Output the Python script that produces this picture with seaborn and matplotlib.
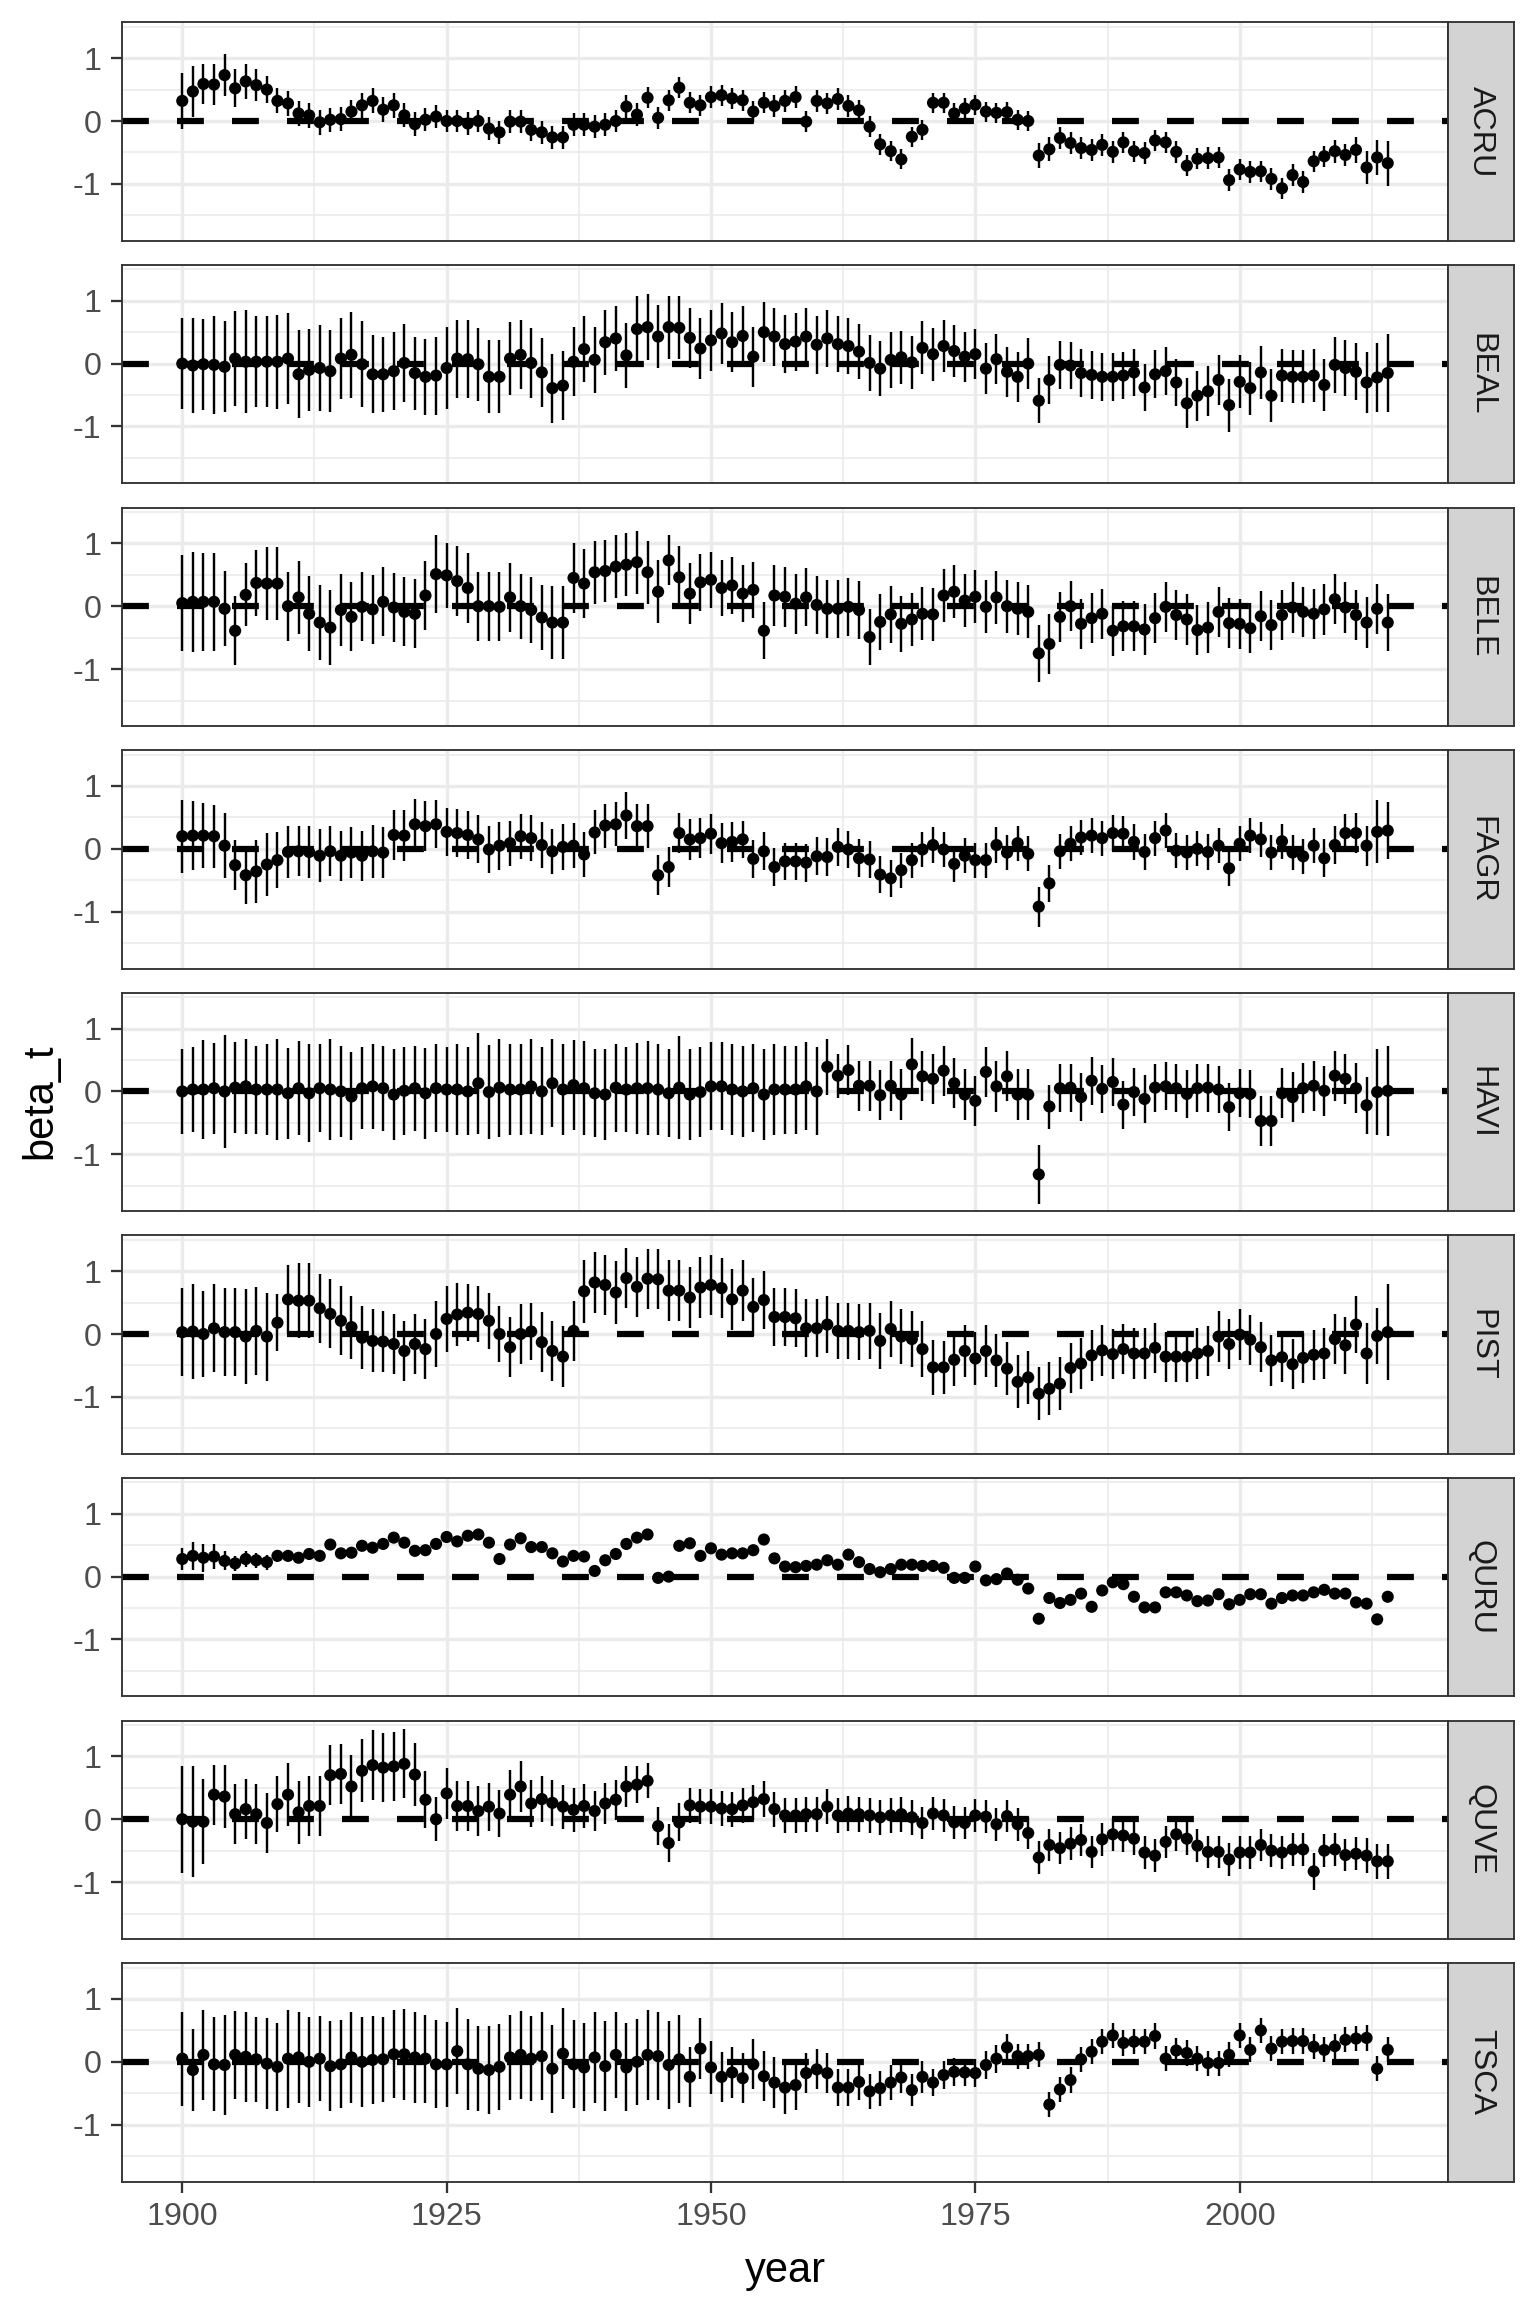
import pandas as pd
import seaborn as sns
import matplotlib.pyplot as plt
from matplotlib.ticker import FixedLocator

years = list(range(1900, 2015))
species = ['ACRU', 'BEAL', 'BELE', 'FAGR', 'HAVI', 'PIST', 'QURU', 'QUVE', 'TSCA']

# point estimates (beta_t) and half-width of the interval, 1900..2014
acru_beta = [0.32, 0.47, 0.59, 0.58, 0.73, 0.52, 0.63, 0.57, 0.50, 0.32,
             0.28, 0.12, 0.09, -0.02, 0.02, 0.03, 0.15, 0.25, 0.32, 0.18,
             0.25, 0.09, -0.05, 0.02, 0.07, 0.00, 0.00, -0.04, 0.00, -0.12,
             -0.18, -0.01, -0.01, -0.14, -0.18, -0.26, -0.26, -0.06, -0.06, -0.09,
             -0.06, 0.00, 0.23, 0.10, 0.37, 0.05, 0.33, 0.53, 0.29, 0.25,
             0.38, 0.41, 0.36, 0.33, 0.15, 0.29, 0.24, 0.32, 0.38, -0.01,
             0.32, 0.28, 0.35, 0.24, 0.17, -0.09, -0.37, -0.48, -0.61, -0.25,
             -0.14, 0.29, 0.29, 0.12, 0.20, 0.26, 0.15, 0.13, 0.14, 0.02,
             0.00, -0.55, -0.45, -0.27, -0.35, -0.43, -0.46, -0.38, -0.49, -0.34,
             -0.48, -0.51, -0.31, -0.34, -0.49, -0.71, -0.60, -0.59, -0.58, -0.94,
             -0.77, -0.81, -0.80, -0.92, -1.07, -0.86, -0.97, -0.64, -0.56, -0.48,
             -0.54, -0.46, -0.74, -0.58, -0.67]
acru_err = [0.45, 0.40, 0.32, 0.32, 0.34, 0.30, 0.28, 0.25, 0.22, 0.20,
            0.20, 0.20, 0.20, 0.20, 0.19, 0.19, 0.19, 0.20, 0.20, 0.20,
            0.20, 0.19, 0.19, 0.18, 0.18, 0.18, 0.18, 0.18, 0.18, 0.18,
            0.18, 0.18, 0.18, 0.18, 0.18, 0.18, 0.18, 0.18, 0.18, 0.18,
            0.18, 0.18, 0.18, 0.18, 0.17, 0.17, 0.17, 0.17, 0.17, 0.17,
            0.17, 0.17, 0.17, 0.17, 0.17, 0.17, 0.17, 0.17, 0.17, 0.17,
            0.17, 0.17, 0.17, 0.17, 0.17, 0.17, 0.17, 0.16, 0.16, 0.16,
            0.16, 0.16, 0.16, 0.16, 0.16, 0.16, 0.16, 0.16, 0.16, 0.16,
            0.16, 0.20, 0.19, 0.18, 0.17, 0.17, 0.17, 0.17, 0.17, 0.17,
            0.17, 0.17, 0.17, 0.17, 0.17, 0.17, 0.17, 0.17, 0.17, 0.17,
            0.17, 0.17, 0.17, 0.17, 0.17, 0.17, 0.17, 0.17, 0.17, 0.18,
            0.18, 0.20, 0.26, 0.28, 0.36]

beal_beta = [0.00, -0.03, -0.01, -0.02, -0.05, 0.08, 0.03, 0.03, 0.03, 0.03,
             0.08, -0.17, -0.10, -0.07, -0.12, 0.08, 0.14, -0.01, -0.17, -0.17,
             -0.12, 0.01, -0.15, -0.21, -0.19, -0.07, 0.08, 0.07, -0.01, -0.21,
             -0.21, 0.08, 0.14, 0.01, -0.14, -0.39, -0.35, 0.03, 0.23, 0.06,
             0.34, 0.40, 0.13, 0.55, 0.58, 0.43, 0.58, 0.57, 0.41, 0.24,
             0.37, 0.48, 0.34, 0.44, 0.11, 0.50, 0.43, 0.31, 0.35, 0.43,
             0.30, 0.40, 0.31, 0.28, 0.19, 0.01, -0.08, 0.06, 0.10, 0.02,
             0.25, 0.15, 0.28, 0.20, 0.11, 0.15, -0.08, 0.07, -0.13, -0.21,
             0.00, -0.59, -0.26, -0.02, -0.03, -0.15, -0.18, -0.21, -0.21, -0.19,
             -0.14, -0.38, -0.17, -0.12, -0.30, -0.63, -0.51, -0.44, -0.26, -0.66,
             -0.29, -0.39, -0.14, -0.51, -0.19, -0.21, -0.21, -0.19, -0.34, -0.02,
             -0.07, -0.13, -0.30, -0.22, -0.15]
beal_err = [0.72, 0.75, 0.72, 0.78, 0.72, 0.75, 0.82, 0.72, 0.72, 0.75,
            0.72, 0.70, 0.65, 0.68, 0.65, 0.65, 0.68, 0.68, 0.62, 0.60,
            0.62, 0.62, 0.58, 0.60, 0.62, 0.65, 0.62, 0.62, 0.58, 0.58,
            0.58, 0.58, 0.55, 0.55, 0.55, 0.55, 0.55, 0.55, 0.52, 0.52,
            0.52, 0.52, 0.52, 0.52, 0.52, 0.50, 0.50, 0.50, 0.48, 0.48,
            0.48, 0.48, 0.48, 0.48, 0.48, 0.48, 0.46, 0.46, 0.46, 0.46,
            0.46, 0.45, 0.45, 0.45, 0.44, 0.44, 0.44, 0.44, 0.42, 0.42,
            0.42, 0.42, 0.42, 0.42, 0.40, 0.40, 0.40, 0.40, 0.40, 0.40,
            0.40, 0.36, 0.38, 0.38, 0.38, 0.38, 0.38, 0.38, 0.38, 0.38,
            0.38, 0.38, 0.38, 0.38, 0.38, 0.40, 0.40, 0.40, 0.40, 0.42,
            0.42, 0.42, 0.42, 0.42, 0.42, 0.42, 0.42, 0.42, 0.42, 0.45,
            0.45, 0.45, 0.48, 0.55, 0.62]

bele_beta = [0.05, 0.07, 0.07, 0.07, -0.04, -0.39, 0.18, 0.37, 0.36, 0.36,
             0.00, 0.14, -0.12, -0.26, -0.34, -0.06, -0.17, -0.01, -0.05, 0.07,
             -0.02, -0.09, -0.12, 0.17, 0.51, 0.49, 0.40, 0.29, 0.00, 0.00,
             -0.01, 0.14, 0.00, -0.06, -0.18, -0.26, -0.26, 0.45, 0.36, 0.54,
             0.56, 0.63, 0.66, 0.70, 0.54, 0.23, 0.73, 0.46, 0.20, 0.38,
             0.42, 0.29, 0.33, 0.20, 0.26, -0.39, 0.17, 0.15, 0.04, 0.14,
             0.02, -0.04, -0.04, -0.01, -0.06, -0.49, -0.25, -0.13, -0.28, -0.21,
             -0.12, -0.13, 0.17, 0.23, 0.09, 0.15, -0.01, 0.14, 0.00, -0.04,
             -0.09, -0.75, -0.60, -0.17, 0.00, -0.28, -0.19, -0.12, -0.39, -0.32,
             -0.32, -0.37, -0.19, -0.01, -0.14, -0.21, -0.38, -0.34, -0.09, -0.27,
             -0.28, -0.35, -0.16, -0.30, -0.14, -0.02, -0.09, -0.12, -0.05, 0.11,
             -0.02, -0.14, -0.26, -0.04, -0.26]
bele_err = [0.76, 0.80, 0.78, 0.78, 0.60, 0.55, 0.50, 0.52, 0.58, 0.58,
            0.55, 0.58, 0.60, 0.60, 0.60, 0.58, 0.55, 0.55, 0.55, 0.55,
            0.55, 0.55, 0.55, 0.55, 0.62, 0.52, 0.55, 0.55, 0.55, 0.55,
            0.55, 0.55, 0.52, 0.52, 0.52, 0.58, 0.58, 0.55, 0.55, 0.50,
            0.50, 0.50, 0.50, 0.50, 0.50, 0.50, 0.40, 0.50, 0.48, 0.45,
            0.45, 0.45, 0.45, 0.45, 0.45, 0.45, 0.48, 0.48, 0.48, 0.46,
            0.46, 0.46, 0.46, 0.46, 0.46, 0.45, 0.45, 0.45, 0.45, 0.42,
            0.42, 0.42, 0.42, 0.42, 0.42, 0.42, 0.42, 0.42, 0.42, 0.42,
            0.42, 0.45, 0.48, 0.40, 0.40, 0.40, 0.40, 0.40, 0.40, 0.40,
            0.40, 0.40, 0.40, 0.40, 0.40, 0.40, 0.40, 0.40, 0.40, 0.40,
            0.40, 0.40, 0.40, 0.40, 0.40, 0.40, 0.40, 0.40, 0.40, 0.40,
            0.40, 0.40, 0.40, 0.40, 0.45]

fagr_beta = [0.20, 0.21, 0.21, 0.20, 0.05, -0.26, -0.42, -0.36, -0.25, -0.18,
             -0.05, -0.04, -0.05, -0.11, -0.04, -0.11, -0.06, -0.11, -0.04, -0.06,
             0.22, 0.21, 0.39, 0.36, 0.39, 0.27, 0.25, 0.22, 0.15, -0.01,
             0.05, 0.09, 0.20, 0.17, 0.06, -0.04, 0.03, 0.05, -0.09, 0.26,
             0.37, 0.39, 0.53, 0.36, 0.36, -0.42, -0.29, 0.25, 0.15, 0.17,
             0.24, 0.09, 0.11, 0.15, -0.16, -0.04, -0.29, -0.20, -0.20, -0.22,
             -0.12, -0.13, 0.03, -0.01, -0.15, -0.17, -0.41, -0.47, -0.34, -0.18,
             -0.01, 0.06, -0.01, -0.24, -0.11, -0.18, -0.18, 0.06, -0.06, 0.09,
             -0.08, -0.92, -0.55, -0.04, 0.08, 0.18, 0.21, 0.17, 0.25, 0.24,
             0.11, -0.05, 0.17, 0.29, -0.03, -0.06, 0.00, -0.05, 0.05, -0.31,
             0.08, 0.21, 0.15, -0.06, 0.12, -0.06, -0.12, 0.05, -0.15, 0.06,
             0.25, 0.25, 0.05, 0.27, 0.29]
fagr_err = [0.58, 0.55, 0.52, 0.50, 0.52, 0.40, 0.45, 0.50, 0.50, 0.45,
            0.42, 0.40, 0.42, 0.42, 0.40, 0.40, 0.40, 0.40, 0.42, 0.40,
            0.40, 0.40, 0.40, 0.40, 0.38, 0.38, 0.38, 0.38, 0.38, 0.38,
            0.38, 0.36, 0.36, 0.36, 0.36, 0.36, 0.36, 0.36, 0.36, 0.35,
            0.35, 0.35, 0.38, 0.35, 0.35, 0.32, 0.32, 0.32, 0.32, 0.32,
            0.32, 0.32, 0.32, 0.30, 0.30, 0.30, 0.30, 0.30, 0.30, 0.30,
            0.30, 0.30, 0.30, 0.30, 0.30, 0.30, 0.30, 0.30, 0.28, 0.28,
            0.28, 0.28, 0.28, 0.28, 0.28, 0.28, 0.28, 0.28, 0.28, 0.28,
            0.28, 0.32, 0.30, 0.28, 0.28, 0.28, 0.28, 0.28, 0.28, 0.28,
            0.28, 0.28, 0.28, 0.28, 0.28, 0.28, 0.28, 0.28, 0.28, 0.28,
            0.28, 0.28, 0.28, 0.28, 0.28, 0.28, 0.28, 0.28, 0.30, 0.30,
            0.30, 0.32, 0.32, 0.50, 0.45]

havi_beta = [0.00, 0.03, 0.03, 0.05, 0.00, 0.06, 0.08, 0.03, 0.03, 0.03,
             -0.03, 0.05, -0.03, 0.05, 0.03, 0.00, -0.08, 0.05, 0.08, 0.05,
             -0.05, 0.01, 0.05, -0.03, 0.05, 0.03, 0.03, 0.00, 0.13, -0.01,
             0.06, 0.03, 0.03, 0.08, 0.00, 0.13, 0.03, 0.10, 0.05, -0.03,
             -0.05, 0.06, 0.03, 0.05, 0.05, 0.03, -0.03, 0.06, -0.05, -0.01,
             0.08, 0.08, 0.03, 0.00, 0.05, -0.05, 0.03, 0.03, 0.03, 0.08,
             0.00, 0.39, 0.25, 0.34, 0.09, 0.09, -0.06, 0.09, -0.05, 0.43,
             0.24, 0.20, 0.33, 0.13, -0.05, -0.15, 0.31, 0.08, 0.24, -0.05,
             -0.05, -1.32, -0.24, 0.05, 0.06, -0.09, 0.17, 0.04, 0.15, -0.21,
             -0.01, -0.12, 0.06, 0.08, 0.05, -0.04, 0.05, 0.06, 0.03, -0.25,
             -0.03, -0.04, -0.47, -0.47, -0.03, -0.09, 0.05, 0.09, 0.01, 0.25,
             0.20, 0.05, -0.22, -0.01, 0.01]
havi_err = [0.67, 0.68, 0.78, 0.72, 0.90, 0.72, 0.75, 0.70, 0.72, 0.80,
            0.72, 0.75, 0.78, 0.70, 0.80, 0.72, 0.70, 0.65, 0.68, 0.68,
            0.72, 0.70, 0.68, 0.72, 0.70, 0.68, 0.72, 0.70, 0.80, 0.75,
            0.78, 0.72, 0.72, 0.75, 0.70, 0.70, 0.72, 0.72, 0.75, 0.70,
            0.72, 0.70, 0.68, 0.72, 0.75, 0.72, 0.70, 0.82, 0.72, 0.72,
            0.70, 0.70, 0.72, 0.72, 0.70, 0.72, 0.72, 0.70, 0.70, 0.70,
            0.70, 0.45, 0.35, 0.40, 0.40, 0.40, 0.40, 0.40, 0.40, 0.42,
            0.40, 0.40, 0.40, 0.40, 0.40, 0.40, 0.40, 0.40, 0.40, 0.40,
            0.40, 0.47, 0.35, 0.38, 0.38, 0.38, 0.38, 0.38, 0.38, 0.38,
            0.38, 0.38, 0.38, 0.38, 0.38, 0.38, 0.38, 0.38, 0.38, 0.38,
            0.38, 0.38, 0.40, 0.40, 0.40, 0.40, 0.40, 0.40, 0.40, 0.40,
            0.40, 0.40, 0.45, 0.68, 0.72]

pist_beta = [0.03, 0.04, 0.00, 0.09, 0.03, 0.03, -0.04, 0.05, -0.04, 0.18,
             0.55, 0.53, 0.53, 0.41, 0.32, 0.21, 0.11, -0.06, -0.11, -0.12,
             -0.16, -0.27, -0.16, -0.24, 0.00, 0.24, 0.31, 0.34, 0.32, 0.21,
             0.00, -0.21, 0.00, 0.04, -0.13, -0.27, -0.36, 0.05, 0.68, 0.82,
             0.78, 0.66, 0.89, 0.75, 0.88, 0.87, 0.69, 0.69, 0.58, 0.74,
             0.78, 0.73, 0.55, 0.69, 0.43, 0.54, 0.27, 0.27, 0.25, 0.09,
             0.09, 0.15, 0.05, 0.05, 0.03, 0.05, -0.11, 0.08, -0.04, -0.08,
             -0.24, -0.53, -0.53, -0.41, -0.27, -0.39, -0.27, -0.42, -0.55, -0.76,
             -0.69, -0.95, -0.87, -0.79, -0.54, -0.47, -0.34, -0.26, -0.32, -0.24,
             -0.31, -0.31, -0.22, -0.36, -0.36, -0.36, -0.31, -0.27, -0.04, -0.16,
             -0.01, -0.09, -0.21, -0.42, -0.37, -0.48, -0.38, -0.33, -0.31, -0.08,
             -0.18, 0.15, -0.31, -0.03, 0.03]
pist_err = [0.70, 0.75, 0.68, 0.70, 0.70, 0.70, 0.75, 0.70, 0.70, 0.45,
            0.55, 0.60, 0.60, 0.55, 0.55, 0.55, 0.50, 0.50, 0.50, 0.48,
            0.48, 0.48, 0.48, 0.48, 0.52, 0.52, 0.50, 0.45, 0.45, 0.45,
            0.45, 0.48, 0.48, 0.45, 0.48, 0.48, 0.48, 0.48, 0.50, 0.48,
            0.48, 0.50, 0.48, 0.48, 0.48, 0.48, 0.48, 0.48, 0.48, 0.48,
            0.48, 0.48, 0.48, 0.48, 0.46, 0.46, 0.46, 0.46, 0.46, 0.46,
            0.46, 0.45, 0.45, 0.45, 0.45, 0.45, 0.45, 0.44, 0.44, 0.44,
            0.44, 0.44, 0.42, 0.42, 0.42, 0.42, 0.42, 0.42, 0.42, 0.42,
            0.42, 0.42, 0.42, 0.42, 0.40, 0.40, 0.40, 0.40, 0.40, 0.40,
            0.40, 0.40, 0.40, 0.40, 0.40, 0.40, 0.40, 0.40, 0.40, 0.40,
            0.40, 0.40, 0.40, 0.40, 0.40, 0.40, 0.40, 0.40, 0.40, 0.40,
            0.45, 0.45, 0.48, 0.45, 0.76]

quru_beta = [0.28, 0.33, 0.30, 0.32, 0.25, 0.21, 0.28, 0.26, 0.23, 0.33,
             0.33, 0.30, 0.36, 0.33, 0.51, 0.37, 0.38, 0.49, 0.46, 0.52,
             0.62, 0.54, 0.41, 0.42, 0.52, 0.63, 0.56, 0.65, 0.67, 0.54,
             0.28, 0.51, 0.61, 0.47, 0.47, 0.37, 0.24, 0.33, 0.32, 0.09,
             0.26, 0.36, 0.52, 0.62, 0.67, -0.02, 0.00, 0.49, 0.53, 0.33,
             0.45, 0.35, 0.37, 0.37, 0.42, 0.59, 0.29, 0.16, 0.15, 0.17,
             0.19, 0.26, 0.19, 0.35, 0.23, 0.12, 0.07, 0.12, 0.19, 0.19,
             0.17, 0.17, 0.14, -0.02, -0.02, 0.16, -0.06, -0.04, 0.05, -0.05,
             -0.19, -0.67, -0.34, -0.42, -0.37, -0.27, -0.48, -0.22, -0.09, -0.12,
             -0.32, -0.49, -0.49, -0.25, -0.25, -0.30, -0.39, -0.38, -0.28, -0.44,
             -0.37, -0.28, -0.28, -0.43, -0.34, -0.30, -0.30, -0.25, -0.21, -0.27,
             -0.27, -0.41, -0.43, -0.68, -0.32]
quru_err = [0.18, 0.22, 0.22, 0.20, 0.15, 0.12, 0.12, 0.12, 0.12, 0.10,
            0.08, 0.08, 0.08, 0.08, 0.06, 0.05, 0.05, 0.05, 0.05, 0.05,
            0.05, 0.05, 0.05, 0.05, 0.05, 0.05, 0.05, 0.05, 0.05, 0.05,
            0.05, 0.05, 0.05, 0.05, 0.05, 0.05, 0.05, 0.05, 0.05, 0.05,
            0.05, 0.05, 0.05, 0.05, 0.05, 0.05, 0.05, 0.05, 0.05, 0.05,
            0.05, 0.05, 0.05, 0.05, 0.05, 0.05, 0.05, 0.05, 0.05, 0.05,
            0.05, 0.05, 0.05, 0.05, 0.05, 0.05, 0.05, 0.05, 0.05, 0.05,
            0.05, 0.05, 0.05, 0.05, 0.05, 0.05, 0.05, 0.05, 0.05, 0.05,
            0.05, 0.05, 0.05, 0.05, 0.05, 0.05, 0.05, 0.05, 0.05, 0.05,
            0.05, 0.05, 0.05, 0.05, 0.05, 0.05, 0.05, 0.05, 0.05, 0.05,
            0.05, 0.05, 0.05, 0.05, 0.05, 0.05, 0.05, 0.05, 0.05, 0.05,
            0.05, 0.05, 0.05, 0.05, 0.05]

quve_beta = [0.00, -0.04, -0.04, 0.39, 0.36, 0.08, 0.16, 0.08, -0.06, 0.24,
             0.39, 0.11, 0.21, 0.21, 0.70, 0.72, 0.52, 0.77, 0.86, 0.82,
             0.84, 0.88, 0.71, 0.31, 0.00, 0.41, 0.21, 0.21, 0.13, 0.20,
             0.09, 0.39, 0.52, 0.25, 0.32, 0.26, 0.20, 0.15, 0.21, 0.13,
             0.25, 0.31, 0.52, 0.55, 0.61, -0.11, -0.38, -0.05, 0.22, 0.20,
             0.20, 0.17, 0.16, 0.22, 0.27, 0.32, 0.16, 0.06, 0.06, 0.08,
             0.08, 0.20, 0.06, 0.09, 0.08, 0.06, 0.03, 0.06, 0.08, 0.03,
             -0.06, 0.09, 0.06, -0.05, -0.06, 0.06, 0.04, -0.08, 0.05, -0.08,
             -0.22, -0.61, -0.41, -0.46, -0.39, -0.33, -0.52, -0.32, -0.24, -0.26,
             -0.31, -0.53, -0.58, -0.36, -0.24, -0.31, -0.42, -0.52, -0.52, -0.64,
             -0.53, -0.53, -0.41, -0.50, -0.53, -0.48, -0.48, -0.83, -0.50, -0.48,
             -0.57, -0.55, -0.58, -0.67, -0.67]
quve_err = [0.85, 0.88, 0.68, 0.48, 0.50, 0.48, 0.48, 0.48, 0.48, 0.45,
            0.50, 0.50, 0.48, 0.48, 0.48, 0.48, 0.50, 0.50, 0.56, 0.55,
            0.55, 0.55, 0.50, 0.45, 0.35, 0.40, 0.40, 0.40, 0.40, 0.38,
            0.38, 0.40, 0.40, 0.38, 0.36, 0.36, 0.35, 0.35, 0.35, 0.32,
            0.32, 0.32, 0.32, 0.30, 0.28, 0.30, 0.30, 0.30, 0.28, 0.28,
            0.28, 0.28, 0.28, 0.28, 0.28, 0.28, 0.28, 0.28, 0.28, 0.28,
            0.28, 0.28, 0.28, 0.28, 0.28, 0.28, 0.28, 0.28, 0.28, 0.28,
            0.26, 0.26, 0.26, 0.26, 0.26, 0.26, 0.26, 0.26, 0.26, 0.26,
            0.26, 0.26, 0.26, 0.26, 0.26, 0.26, 0.26, 0.26, 0.26, 0.26,
            0.26, 0.26, 0.26, 0.26, 0.26, 0.26, 0.26, 0.26, 0.26, 0.26,
            0.26, 0.26, 0.26, 0.26, 0.26, 0.26, 0.26, 0.30, 0.26, 0.26,
            0.26, 0.26, 0.28, 0.28, 0.28]

tsca_beta = [0.05, -0.13, 0.11, -0.04, -0.05, 0.11, 0.08, 0.04, -0.03, -0.08,
             0.05, 0.07, 0.00, 0.05, -0.07, -0.04, 0.07, 0.00, 0.03, 0.04,
             0.12, 0.12, 0.07, 0.05, -0.04, -0.04, 0.17, -0.04, -0.11, -0.13,
             -0.08, 0.07, 0.11, 0.05, 0.09, -0.11, 0.13, -0.04, -0.09, 0.07,
             -0.07, 0.11, -0.09, 0.00, 0.11, 0.09, -0.05, 0.04, -0.24, 0.21,
             -0.09, -0.24, -0.17, -0.26, -0.04, -0.23, -0.33, -0.41, -0.37, -0.18,
             -0.12, -0.18, -0.41, -0.41, -0.32, -0.47, -0.42, -0.33, -0.25, -0.45,
             -0.24, -0.33, -0.21, -0.16, -0.17, -0.18, -0.05, 0.05, 0.23, 0.09,
             0.09, 0.11, -0.68, -0.44, -0.29, 0.04, 0.16, 0.32, 0.42, 0.30,
             0.32, 0.32, 0.41, 0.05, 0.18, 0.14, 0.05, -0.02, -0.02, 0.11,
             0.42, 0.19, 0.50, 0.21, 0.32, 0.33, 0.33, 0.24, 0.19, 0.25,
             0.35, 0.37, 0.38, -0.11, 0.19]
tsca_err = [0.75, 0.65, 0.72, 0.75, 0.80, 0.70, 0.72, 0.68, 0.72, 0.70,
            0.78, 0.72, 0.72, 0.68, 0.72, 0.70, 0.72, 0.72, 0.70, 0.68,
            0.70, 0.72, 0.72, 0.70, 0.70, 0.68, 0.68, 0.72, 0.68, 0.70,
            0.68, 0.68, 0.70, 0.68, 0.70, 0.70, 0.72, 0.70, 0.70, 0.72,
            0.72, 0.68, 0.70, 0.68, 0.72, 0.70, 0.70, 0.70, 0.48, 0.48,
            0.42, 0.40, 0.40, 0.40, 0.40, 0.40, 0.40, 0.42, 0.40, 0.32,
            0.32, 0.32, 0.30, 0.30, 0.28, 0.28, 0.28, 0.28, 0.25, 0.25,
            0.25, 0.22, 0.22, 0.22, 0.22, 0.22, 0.22, 0.22, 0.22, 0.20,
            0.20, 0.20, 0.20, 0.20, 0.20, 0.20, 0.20, 0.20, 0.20, 0.20,
            0.20, 0.20, 0.20, 0.20, 0.20, 0.20, 0.20, 0.20, 0.20, 0.20,
            0.20, 0.20, 0.20, 0.20, 0.20, 0.20, 0.20, 0.20, 0.20, 0.20,
            0.20, 0.20, 0.20, 0.20, 0.20]

betas = [acru_beta, beal_beta, bele_beta, fagr_beta, havi_beta,
         pist_beta, quru_beta, quve_beta, tsca_beta]
errs = [acru_err, beal_err, bele_err, fagr_err, havi_err,
        pist_err, quru_err, quve_err, tsca_err]

frames = []
for sp, b, e in zip(species, betas, errs):
    frames.append(pd.DataFrame({'species': sp, 'year': years, 'beta_t': b, 'err': e}))
df = pd.concat(frames, ignore_index=True)
df['lo'] = df['beta_t'] - df['err']
df['hi'] = df['beta_t'] + df['err']

sns.set_theme(style='white')
plt.rcParams['font.family'] = ['Liberation Sans', 'DejaVu Sans']
plt.rcParams['axes.unicode_minus'] = False

W, H = 1536, 2304
fig = plt.figure(figsize=(W / 150, H / 150), dpi=150)
left, right, strip_w = 122, 1448, 66
top0, ph, stride = 22.3, 218.5, 242.6
border = '#333333'

for i, sp in enumerate(species):
    d = df[df['species'] == sp]
    y0 = 1 - (top0 + stride * i + ph) / H
    ax = fig.add_axes([left / W, y0, (right - left) / W, ph / H])
    ax.set_facecolor('white')
    ax.set_axisbelow(True)
    ax.xaxis.set_major_locator(FixedLocator([1900, 1925, 1950, 1975, 2000]))
    ax.xaxis.set_minor_locator(FixedLocator([1912.5, 1937.5, 1962.5, 1987.5, 2012.5]))
    ax.yaxis.set_major_locator(FixedLocator([-1, 0, 1]))
    ax.yaxis.set_minor_locator(FixedLocator([-1.5, -0.5, 0.5, 1.5]))
    ax.grid(which='major', color='#EBEBEB', lw=1.6)
    ax.grid(which='minor', color='#EBEBEB', lw=0.8)

    ax.axhline(0, color='black', lw=3.0, dashes=(4.3, 4.5), zorder=2)
    ax.vlines(d['year'], d['lo'], d['hi'], color='black', lw=1.15, zorder=3)
    sns.scatterplot(data=d, x='year', y='beta_t', ax=ax, color='black',
                    s=34, edgecolor='none', linewidth=0, zorder=4, legend=False)

    ax.set_xlim(1894.3, 2019.7)
    ax.set_ylim(-1.905, 1.57)
    ax.set_yticklabels(['-1', '0', '1'])
    ax.set_xlabel('')
    ax.set_ylabel('')
    ax.tick_params(axis='y', which='major', length=5.5, width=1.1, color=border,
                   labelsize=15.5, labelcolor='#4D4D4D', pad=4.5, left=True)
    ax.tick_params(which='minor', length=0)
    if i == len(species) - 1:
        ax.tick_params(axis='x', which='major', length=5.5, width=1.1, color=border,
                       labelsize=15.5, labelcolor='#4D4D4D', pad=4.5, bottom=True)
    else:
        ax.tick_params(axis='x', which='major', bottom=False, labelbottom=False)
    for s in ax.spines.values():
        s.set_color(border)
        s.set_linewidth(0.9)

    sax = fig.add_axes([right / W, y0, strip_w / W, ph / H])
    sax.set_facecolor('#D3D3D3')
    sax.set_xticks([])
    sax.set_yticks([])
    for s in sax.spines.values():
        s.set_color(border)
        s.set_linewidth(0.9)
    sax.text(0.5, 0.5, sp, rotation=-90, ha='center', va='center',
             fontsize=15.5, color='#1A1A1A', transform=sax.transAxes)

fig.text((left + right) / 2 / W, 1 - 2271 / H, 'year', ha='center', va='center',
         fontsize=20, color='black')
fig.text(40 / W, 1 - 1101 / H, 'beta_t', ha='center', va='center',
         rotation=90, fontsize=20, color='black')

fig.savefig('out.png', dpi=150, facecolor='white')
